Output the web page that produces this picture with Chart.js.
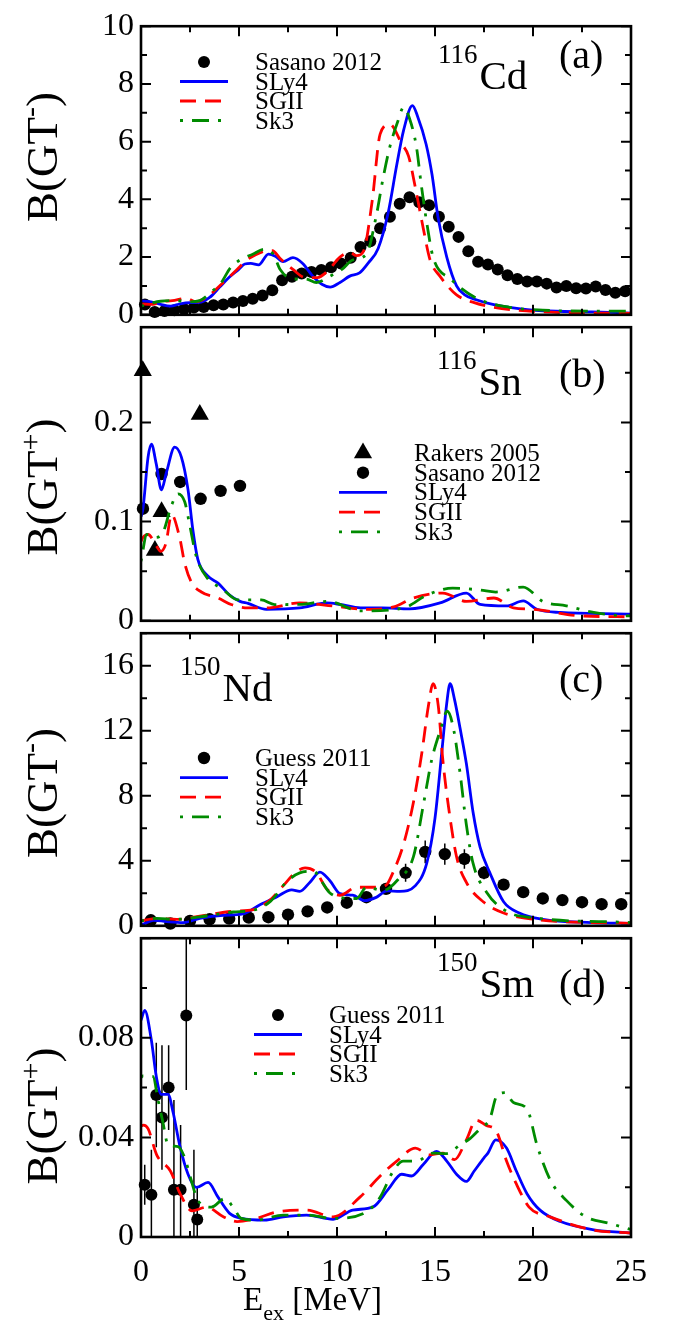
<!DOCTYPE html>
<html>
<head>
<meta charset="utf-8">
<script src="https://cdn.jsdelivr.net/npm/chart.js@4.4.1/dist/chart.umd.min.js"></script>
<style>
  html, body { margin: 0; padding: 0; background: #fff; }
  #wrap { position: relative; width: 678px; height: 1324px; overflow: hidden; }
  #wrap canvas { position: absolute; left: 0; }
</style>
</head>
<body>
<div id="wrap">
  <canvas id="panelA"></canvas>
  <canvas id="panelB"></canvas>
  <canvas id="panelC"></canvas>
  <canvas id="panelD"></canvas>
</div>
<script>
// ---- shared axis ----
const xTicks = [0, 5, 10, 15, 20, 25];

// ---- (a) 116Cd, B(GT-) ----
const yTicksA = [0, 2, 4, 6, 8, 10];
const sasanoCdE = [0.2, 0.7, 1.2, 1.7, 2.2, 2.7, 3.2, 3.7, 4.2, 4.7, 5.2, 5.7, 6.2, 6.7, 7.2, 7.7, 8.2, 8.7, 9.2, 9.7,
  10.2, 10.7, 11.2, 11.7, 12.2, 12.7, 13.2, 13.7, 14.2, 14.7, 15.2, 15.7, 16.2, 16.7, 17.2, 17.7, 18.2, 18.7, 19.2, 19.7,
  20.2, 20.7, 21.2, 21.7, 22.2, 22.7, 23.2, 23.7, 24.2, 24.7];
const sasanoCdB = [0.36, 0.10, 0.13, 0.16, 0.20, 0.25, 0.27, 0.33, 0.36, 0.43, 0.48, 0.56, 0.67, 0.85, 1.20, 1.32, 1.43, 1.48, 1.55, 1.65,
  1.78, 1.98, 2.35, 2.55, 3.00, 3.40, 3.85, 4.07, 3.90, 3.80, 3.40, 3.05, 2.70, 2.20, 1.84, 1.74, 1.57, 1.37, 1.24, 1.15,
  1.15, 1.08, 0.95, 1.00, 0.92, 0.91, 0.98, 0.86, 0.76, 0.82];
const slyCdE = [0, 0.5, 1, 1.5, 2, 2.5, 3, 3.5, 4, 4.5, 5, 5.3, 5.6, 6, 6.5, 6.85, 7.25, 7.75, 8.25, 8.75, 9.25, 9.65,
  10.15, 10.65, 11.15, 11.6, 12.1, 12.6, 13.05, 13.4, 13.85, 14.1, 14.55, 14.85, 15.15, 15.6, 16.1, 16.5, 17.1, 18, 18.8, 20.5, 23, 25];
const slyCdB = [0.48, 0.45, 0.36, 0.30, 0.38, 0.42, 0.43, 0.60, 0.95, 1.30, 1.58, 1.76, 1.78, 1.73, 2.10, 2.03, 1.84, 1.98, 1.78, 1.35, 1.05, 0.96,
  1.12, 1.34, 1.45, 1.80, 2.30, 3.50, 5.20, 6.40, 7.25, 6.90, 5.90, 4.85, 3.40, 2.00, 1.00, 0.70, 0.52, 0.35, 0.26, 0.14, 0.10, 0.06];
const sgiiCdE = [0, 0.6, 1, 1.6, 2.3, 2.8, 3.5, 4.2, 4.9, 5.4, 5.8, 6.3, 6.7, 7.1, 7.75, 8.4, 9, 9.5, 10.15, 10.65, 11.0, 11.35,
  11.8, 12.2, 12.7, 13.3, 13.65, 14, 14.4, 14.75, 15.25, 16.1, 17, 18, 20.5, 25];
const sgiiCdB = [0.38, 0.36, 0.45, 0.49, 0.57, 0.45, 0.69, 1.12, 1.57, 1.90, 2.06, 2.20, 2.22, 1.95, 1.57, 1.29, 1.29, 1.50, 2.00, 2.16, 2.05, 2.20,
  3.97, 6.26, 6.60, 5.93, 5.50, 4.40, 3.00, 1.90, 1.34, 0.69, 0.42, 0.26, 0.10, 0.05];
const sk3CdE = [0, 0.5, 1, 1.8, 2.5, 3, 3.6, 4.1, 4.55, 5.05, 5.7, 6.3, 6.75, 7.1, 7.75, 8.4, 8.95, 9.65, 10.25, 10.8, 11.5, 12,
  12.35, 12.7, 13.1, 13.4, 13.7, 14.05, 14.3, 14.6, 14.9, 15.8, 17.1, 18.8, 20.5, 23, 25];
const sk3CdB = [0.30, 0.40, 0.47, 0.49, 0.45, 0.49, 0.80, 1.12, 1.62, 1.90, 2.10, 2.27, 2.10, 1.57, 1.24, 1.24, 1.12, 1.34, 1.57, 1.90, 2.10, 3.42,
  4.73, 5.83, 6.70, 7.19, 6.80, 5.83, 4.50, 3.10, 2.00, 1.24, 0.58, 0.26, 0.16, 0.13, 0.13];

// ---- (b) 116Sn, B(GT+) ----
const yTicksB = [0, 0.1, 0.2];
const rakersSnE = [0.09, 0.71, 1.05, 3.0];
const rakersSnB = [0.252, 0.071, 0.110, 0.208];
const sasanoSnE = [0.1, 1.05, 2.0, 3.04, 4.06, 5.05];
const sasanoSnB = [0.113, 0.148, 0.140, 0.123, 0.131, 0.136];
const slySnE = [0, 0.1, 0.36, 0.53, 0.78, 1.04, 1.29, 1.72, 2.06, 2.4, 2.65, 2.9, 3.42, 3.93, 4.52, 5.05, 5.46, 6.4, 8.1, 9.47,
  10.15, 11.2, 12.3, 13.7, 15.25, 16.6, 17.3, 18.65, 19.5, 20.2, 21.4, 24.8, 25];
const slySnB = [0.105, 0.113, 0.165, 0.178, 0.158, 0.132, 0.149, 0.175, 0.165, 0.132, 0.091, 0.062, 0.045, 0.038, 0.026, 0.0196, 0.0175, 0.0116, 0.013, 0.018,
  0.0165, 0.013, 0.013, 0.012, 0.018, 0.028, 0.0165, 0.015, 0.020, 0.0116, 0.0084, 0.0068, 0.0066];
const sgiiSnE = [0, 0.1, 0.36, 0.8, 1.0, 1.27, 1.56, 1.97, 2.23, 2.57, 3.08, 3.93, 4.6, 5.46, 6.4, 8.1, 9.8, 11.5, 12.9, 13.9,
  15.4, 16.6, 18.0, 19.0, 20.0, 22.4, 25];
const sgiiSnB = [0.080, 0.084, 0.087, 0.075, 0.070, 0.078, 0.107, 0.084, 0.058, 0.039, 0.029, 0.023, 0.0164, 0.013, 0.013, 0.018, 0.015, 0.0116, 0.014, 0.023,
  0.028, 0.0196, 0.023, 0.013, 0.0116, 0.005, 0.004];
const sk3SnE = [0, 0.3, 0.7, 1.12, 1.55, 1.89, 2.23, 2.48, 2.82, 3.42, 4.1, 4.95, 6.14, 6.82, 8.1, 9.5, 11.2, 13.4, 14.6, 15.9,
  17.3, 18.1, 19.5, 20.5, 21.7, 23.1, 24.8, 25];
const sk3SnB = [0.060, 0.087, 0.084, 0.089, 0.116, 0.128, 0.120, 0.097, 0.065, 0.042, 0.033, 0.021, 0.021, 0.0164, 0.0165, 0.0196, 0.010, 0.013, 0.026, 0.033,
  0.031, 0.029, 0.034, 0.0196, 0.015, 0.0084, 0.005, 0.005];

// ---- (c) 150Nd, B(GT-) ----
const yTicksC = [0, 4, 8, 12, 16];
const guessNdE = [0.5, 1.5, 2.5, 3.5, 4.5, 5.5, 6.5, 7.5, 8.5, 9.5, 10.5, 11.5, 12.5, 13.5, 14.5, 15.5, 16.5, 17.5, 18.5, 19.5,
  20.5, 21.5, 22.5, 23.5, 24.5];
const guessNdB = [0.34, 0.14, 0.30, 0.40, 0.44, 0.50, 0.53, 0.69, 0.89, 1.13, 1.42, 1.76, 2.27, 3.26, 4.55, 4.41, 4.11, 3.26, 2.53, 2.07,
  1.68, 1.58, 1.45, 1.33, 1.33];
const guessNdErr = [0, 0, 0, 0, 0, 0, 0, 0, 0, 0, 0, 0, 0.3, 0.55, 0.7, 0.65, 0.6, 0.4, 0, 0,
  0, 0, 0, 0, 0];
const slyNdE = [0, 0.12, 0.63, 1.3, 2.16, 3.0, 4.2, 5.2, 6.07, 6.92, 7.69, 8.1, 8.61, 9.13, 9.64, 10.15, 10.8, 11.4, 12.0, 12.55,
  13.2, 14.0, 14.58, 15.0, 15.34, 15.6, 15.77, 16.0, 16.28, 16.6, 16.94, 17.3, 17.8, 18.5, 19.3, 20.5, 23, 25];
const slyNdB = [0.08, 0.10, 0.34, 0.26, 0.20, 0.46, 0.65, 0.73, 1.29, 1.78, 2.21, 2.12, 2.67, 3.30, 2.77, 1.98, 1.88, 1.55, 1.75, 2.15,
  2.12, 2.47, 3.85, 6.62, 10.6, 13.7, 14.9, 13.9, 12.15, 9.98, 7.00, 4.84, 3.26, 1.48, 0.79, 0.40, 0.20, 0.15];
const sgiiNdE = [0, 0.8, 1.82, 3.0, 4.7, 5.73, 6.58, 7.26, 7.86, 8.37, 8.96, 9.47, 10.15, 11.0, 11.85, 12.5, 12.85, 13.4, 13.9, 14.32,
  14.66, 14.9, 15.17, 15.4, 15.68, 16.1, 16.6, 17.46, 18.5, 20, 25];
const sgiiNdB = [0.30, 0.46, 0.40, 0.59, 0.89, 0.99, 1.58, 2.47, 3.26, 3.56, 3.26, 2.27, 1.88, 2.37, 2.37, 2.50, 3.26, 5.04, 7.60, 10.57,
  13.5, 14.9, 13.5, 10.2, 7.40, 4.25, 2.67, 1.48, 0.79, 0.40, 0.15];
const sk3NdE = [0, 0.8, 1.8, 3.0, 4.7, 5.7, 6.6, 7.4, 8.1, 8.8, 9.2, 9.6, 10.3, 11.0, 11.5, 12.36, 13.13, 13.9, 14.4, 14.83,
  15.25, 15.63, 15.94, 16.28, 16.6, 16.94, 17.63, 18.65, 20, 25];
const sk3NdB = [0.30, 0.46, 0.40, 0.55, 0.85, 0.95, 1.50, 2.67, 3.26, 3.36, 2.77, 2.07, 1.72, 1.68, 2.37, 2.17, 2.87, 4.25, 7.40, 10.2,
  11.95, 13.2, 12.15, 9.39, 6.22, 3.85, 2.07, 0.89, 0.50, 0.20];

// ---- (d) 150Sm, B(GT+) ----
const yTicksD = [0, 0.04, 0.08];
const guessSmE = [0.19, 0.53, 0.78, 1.07, 1.41, 1.68, 2.02, 2.31, 2.70, 2.87];
const guessSmB = [0.021, 0.017, 0.057, 0.048, 0.060, 0.019, 0.019, 0.089, 0.013, 0.007];
const guessSmLo = [0.013, 0, 0.036, 0.027, 0.043, 0, 0, 0.059, 0, 0];
const guessSmHi = [0.029, 0.035, 0.078, 0.077, 0.077, 0.055, 0.045, 0.14, 0.035, 0.02];
const slySmE = [0, 0.19, 0.53, 0.78, 1.04, 1.38, 1.64, 1.97, 2.4, 2.82, 3.42, 3.93, 4.52, 5.12, 6.3, 7.26, 8.45, 9.8, 10.8, 11.85,
  12.6, 13.3, 13.8, 14.4, 15.08, 15.6, 16.1, 16.6, 17.0, 17.5, 17.7, 18.1, 18.65, 19.15, 19.7, 20.36, 21.4, 23.1, 25];
const slySmB = [0.087, 0.091, 0.079, 0.0645, 0.0573, 0.0573, 0.050, 0.037, 0.0252, 0.0199, 0.0219, 0.016, 0.0095, 0.0075, 0.0068, 0.0081, 0.0088, 0.0071, 0.0108, 0.0121,
  0.019, 0.0252, 0.0245, 0.0291, 0.0344, 0.0305, 0.0252, 0.0223, 0.0265, 0.0318, 0.0337, 0.039, 0.0357, 0.0265, 0.0173, 0.0108, 0.0062, 0.0029, 0.0016];
const sgiiSmE = [0, 0.12, 0.36, 0.8, 1.5, 2.0, 2.6, 3.35, 4.2, 4.9, 5.9, 6.95, 8.45, 9.8, 11.17, 12.2, 13.05, 14.0, 14.7, 15.4,
  16.0, 16.6, 17.1, 17.6, 18.15, 18.65, 19.15, 19.8, 20.87, 23, 25];
const sgiiSmB = [0.0445, 0.0449, 0.0435, 0.033, 0.0265, 0.0173, 0.0105, 0.012, 0.0081, 0.0062, 0.0075, 0.0101, 0.0108, 0.0081, 0.016, 0.0245, 0.0305, 0.0357, 0.033, 0.0337,
  0.0311, 0.039, 0.0469, 0.0449, 0.0422, 0.0305, 0.0213, 0.012, 0.0081, 0.0029, 0.0016];
const sk3SmE = [0, 0.1, 0.61, 0.87, 1.12, 1.38, 1.89, 2.23, 2.57, 2.9, 3.59, 4.27, 4.7, 5.12, 5.9, 7.26, 8.45, 9.8, 11.5, 12.2,
  12.87, 13.38, 14.06, 14.9, 15.6, 16.28, 16.8, 17.3, 17.8, 18.15, 18.57, 19.0, 19.7, 20.2, 20.9, 21.7, 22.7, 23.9, 25];
const sk3SmB = [0.064, 0.0647, 0.0645, 0.055, 0.046, 0.037, 0.0363, 0.0318, 0.0226, 0.0147, 0.012, 0.0154, 0.012, 0.0075, 0.0068, 0.0088, 0.0088, 0.0075, 0.0101, 0.016,
  0.0265, 0.0305, 0.0305, 0.0337, 0.0335, 0.037, 0.0396, 0.0435, 0.0475, 0.0567, 0.058, 0.054, 0.0514, 0.037, 0.0226, 0.0147, 0.0081, 0.0055, 0.003];

// ---- styling ----
const SERIF = '"Liberation Serif", "Times New Roman", serif';
Chart.defaults.font.family = SERIF;
Chart.defaults.color = '#000';

const pts = (xs, ys) => xs.map((x, i) => ({ x: x, y: ys[i] }));

function curve(label, xs, ys, color, dash, order) {
  return {
    label: label, data: pts(xs, ys), showLine: true,
    borderColor: color, borderWidth: 2.8, borderDash: dash,
    pointRadius: 0, pointHoverRadius: 0,
    tension: 0.4, cubicInterpolationMode: 'monotone', order: order
  };
}
function markers(label, xs, ys, style, radius) {
  return {
    label: label, data: pts(xs, ys), showLine: false,
    pointStyle: style, pointRadius: radius, pointHoverRadius: radius,
    backgroundColor: '#000', borderColor: '#000', borderWidth: 0,
    order: 10, clip: false
  };
}
const BLUE = '#0000ff', RED = '#ff0000', GREEN = '#008b00';
const DASH = [16, 9], DASHDOT = [3, 9, 17, 9];
const theory = (e1, b1, e2, b2, e3, b3) => [
  curve('SLy4', e1, b1, BLUE, [], 3),
  curve('SGII', e2, b2, RED, DASH, 2),
  curve('Sk3', e3, b3, GREEN, DASHDOT, 1)
];

// frame, inward ticks, labels, legend, error bars
const panelDeco = {
  id: 'panelDeco',
  beforeDatasetsDraw(chart, args, o) {
    const { ctx, chartArea: a, scales: { x, y } } = chart;
    ctx.save();
    ctx.beginPath();
    ctx.rect(a.left, a.top, a.right - a.left, a.bottom - a.top);
    ctx.clip();
    ctx.strokeStyle = '#000';
    ctx.lineWidth = 1.5;
    chart.data.datasets.forEach(ds => {
      if (!ds.errLo) return;
      ds.data.forEach((p, i) => {
        if (ds.errHi[i] === ds.errLo[i]) return;
        const px = x.getPixelForValue(p.x);
        ctx.beginPath();
        ctx.moveTo(px, y.getPixelForValue(ds.errLo[i]));
        ctx.lineTo(px, y.getPixelForValue(ds.errHi[i]));
        ctx.stroke();
      });
    });
    ctx.restore();
  },
  afterDraw(chart, args, o) {
    const { ctx, chartArea: a, scales: { x, y } } = chart;
    const off = o.top;
    ctx.save();
    ctx.strokeStyle = '#000';
    ctx.fillStyle = '#000';

    // ticks on all four sides, pointing inward
    ctx.lineWidth = 2;
    const major = 10, minor = 6;
    for (let v = 0; v <= 25 + 1e-9; v += 2.5) {
      const px = x.getPixelForValue(v);
      const len = xTicks.includes(v) ? major : minor;
      ctx.beginPath();
      ctx.moveTo(px, a.bottom); ctx.lineTo(px, a.bottom - len);
      ctx.moveTo(px, a.top); ctx.lineTo(px, a.top + len);
      ctx.stroke();
    }
    for (let k = 0; ; k++) {
      const v = k * o.yMinor;
      if (v > y.max + 1e-9) break;
      const py = y.getPixelForValue(v);
      const isMajor = Math.abs(v / o.yMajor - Math.round(v / o.yMajor)) < 1e-6;
      const len = isMajor ? major : minor;
      ctx.beginPath();
      ctx.moveTo(a.left, py); ctx.lineTo(a.left + len, py);
      ctx.moveTo(a.right, py); ctx.lineTo(a.right - len, py);
      ctx.stroke();
    }
    ctx.lineWidth = 2.6;
    ctx.strokeRect(a.left, a.top, a.right - a.left, a.bottom - a.top);

    // y title: B(GT-) / B(GT+), rotated
    ctx.save();
    ctx.translate(o.yTitle.x, o.yTitle.y - off);
    ctx.rotate(-Math.PI / 2);
    const big = '45px ' + SERIF, small = '30px ' + SERIF;
    ctx.font = big;
    const w1 = ctx.measureText('B(GT').width, w3 = ctx.measureText(')').width;
    ctx.font = small;
    const w2 = ctx.measureText(o.yTitle.sup).width;
    let tx = -(w1 + w2 + w3) / 2;
    ctx.textBaseline = 'alphabetic';
    ctx.font = big; ctx.fillText('B(GT', tx, 0); tx += w1;
    ctx.font = small; ctx.fillText(o.yTitle.sup, tx, -17); tx += w2;
    ctx.font = big; ctx.fillText(')', tx, 0);
    ctx.restore();

    // nuclide and panel tag
    ctx.textBaseline = 'alphabetic';
    ctx.font = '27px ' + SERIF;
    ctx.fillText(o.nuc.mass, o.nuc.x, o.nuc.y - off - 26);
    const mw = ctx.measureText(o.nuc.mass).width;
    ctx.font = '41px ' + SERIF;
    ctx.fillText(o.nuc.sym, o.nuc.x + mw + 2, o.nuc.y - off);
    ctx.font = '40px ' + SERIF;
    ctx.fillText(o.tag.text, o.tag.x, o.tag.y - off);

    // legend
    ctx.font = '25px ' + SERIF;
    o.legend.rows.forEach((di, r) => {
      const ds = chart.data.datasets[di];
      const ry = o.legend.y - off + r * o.legend.dy;
      const lx = o.legend.x;
      if (ds.showLine) {
        ctx.save();
        ctx.strokeStyle = ds.borderColor;
        ctx.lineWidth = ds.borderWidth;
        ctx.setLineDash(ds.borderDash);
        ctx.beginPath();
        ctx.moveTo(lx, ry); ctx.lineTo(lx + 48, ry);
        ctx.stroke();
        ctx.restore();
      } else {
        ctx.save();
        ctx.fillStyle = '#000';
        ctx.strokeStyle = '#000';
        Chart.helpers.drawPoint(ctx, { pointStyle: ds.pointStyle, radius: ds.pointRadius, borderWidth: 0, rotation: 0 }, lx + 24, ry);
        ctx.restore();
      }
      ctx.fillStyle = '#000';
      ctx.fillText(ds.label, lx + 75, ry + 8);
    });

    // x title on the bottom panel: E_ex [MeV]
    if (o.xTitle) {
      const bx = o.xTitle.x, by = o.xTitle.y - off;
      ctx.font = '33px ' + SERIF;
      ctx.fillText('E', bx, by);
      const we = ctx.measureText('E').width;
      ctx.font = '22px ' + SERIF;
      ctx.fillText('ex', bx + we, by + 10);
      const ws = ctx.measureText('ex').width;
      ctx.font = '33px ' + SERIF;
      ctx.fillText(' [MeV]', bx + we + ws, by);
    }
    ctx.restore();
  }
};

function makePanel(id, spec, datasets) {
  const cv = document.getElementById(id);
  cv.style.top = spec.top + 'px';
  cv.width = 678;
  cv.height = spec.height;
  cv.style.width = '678px';
  cv.style.height = spec.height + 'px';
  return new Chart(cv, {
    type: 'scatter',
    data: { datasets: datasets },
    options: {
      responsive: false,
      animation: false,
      devicePixelRatio: 1,
      layout: { padding: { left: 0, right: 47, top: spec.padTop, bottom: 0 } },
      plugins: {
        legend: { display: false },
        tooltip: { enabled: false },
        panelDeco: spec.deco
      },
      scales: {
        x: {
          type: 'linear', min: 0, max: 25,
          afterBuildTicks: s => { s.ticks = xTicks.map(v => ({ value: v })); },
          afterFit: s => { s.height = spec.xAxisH; },
          grid: { display: false, drawTicks: false },
          border: { display: false },
          ticks: { display: spec.xLabels, padding: 16, font: { size: 32 }, maxRotation: 0, autoSkip: false }
        },
        y: {
          type: 'linear', min: 0, max: spec.yMax,
          afterBuildTicks: s => { s.ticks = spec.yTicks.map(v => ({ value: v })); },
          afterFit: s => { s.width = 141; },
          grid: { display: false, drawTicks: false },
          border: { display: false },
          ticks: { padding: 7, font: { size: 32 }, callback: v => String(v) }
        }
      }
    },
    plugins: [panelDeco]
  });
}

makePanel('panelA', {
  top: 0, height: 341, padTop: 16, xAxisH: 20, xLabels: false, yMax: 10, yTicks: yTicksA,
  deco: {
    top: 0, yMajor: 2, yMinor: 1,
    yTitle: { x: 57, y: 157, sup: '-' },
    nuc: { mass: '116', sym: 'Cd', x: 438, y: 89 },
    tag: { text: '(a)', x: 559, y: 68 },
    legend: { x: 180, y: 62, dy: 19.5, rows: [3, 0, 1, 2] }
  }
}, [
  ...theory(slyCdE, slyCdB, sgiiCdE, sgiiCdB, sk3CdE, sk3CdB),
  markers('Sasano 2012', sasanoCdE, sasanoCdB, 'circle', 6)
]);

makePanel('panelB', {
  top: 301, height: 346, padTop: 20, xAxisH: 20, xLabels: false, yMax: 0.296, yTicks: yTicksB,
  deco: {
    top: 301, yMajor: 0.1, yMinor: 0.05,
    yTitle: { x: 57, y: 487, sup: '+' },
    nuc: { mass: '116', sym: 'Sn', x: 437, y: 395 },
    tag: { text: '(b)', x: 559, y: 387 },
    legend: { x: 339, y: 453, dy: 19.7, rows: [3, 4, 0, 1, 2] }
  }
}, [
  ...theory(slySnE, slySnB, sgiiSnE, sgiiSnB, sk3SnE, sk3SnB),
  markers('Rakers 2005', rakersSnE, rakersSnB, 'triangle', 10.5),
  markers('Sasano 2012', sasanoSnE, sasanoSnB, 'circle', 6.2)
]);

const guessNd = markers('Guess 2011', guessNdE, guessNdB, 'circle', 6.2);
guessNd.errLo = guessNdB.map((b, i) => b - guessNdErr[i]);
guessNd.errHi = guessNdB.map((b, i) => b + guessNdErr[i]);
makePanel('panelC', {
  top: 607, height: 345, padTop: 20, xAxisH: 20, xLabels: false, yMax: 18, yTicks: yTicksC,
  deco: {
    top: 607, yMajor: 4, yMinor: 2,
    yTitle: { x: 57, y: 793, sup: '-' },
    nuc: { mass: '150', sym: 'Nd', x: 180, y: 701 },
    tag: { text: '(c)', x: 559, y: 692 },
    legend: { x: 180, y: 758, dy: 19.6, rows: [3, 0, 1, 2] }
  }
}, [
  ...theory(slyNdE, slyNdB, sgiiNdE, sgiiNdB, sk3NdE, sk3NdB),
  guessNd
]);

const guessSm = markers('Guess 2011', guessSmE, guessSmB, 'circle', 6);
guessSm.errLo = guessSmLo;
guessSm.errHi = guessSmHi;
makePanel('panelD', {
  top: 912, height: 412, padTop: 20, xAxisH: 87, xLabels: true, yMax: 0.12, yTicks: yTicksD,
  deco: {
    top: 912, yMajor: 0.04, yMinor: 0.02,
    yTitle: { x: 57, y: 1116, sup: '+' },
    nuc: { mass: '150', sym: 'Sm', x: 437, y: 997 },
    tag: { text: '(d)', x: 559, y: 997 },
    legend: { x: 254, y: 1015, dy: 19.5, rows: [3, 0, 1, 2] },
    xTitle: { x: 243, y: 1310 }
  }
}, [
  ...theory(slySmE, slySmB, sgiiSmE, sgiiSmB, sk3SmE, sk3SmB),
  guessSm
]);
</script>
</body>
</html>
